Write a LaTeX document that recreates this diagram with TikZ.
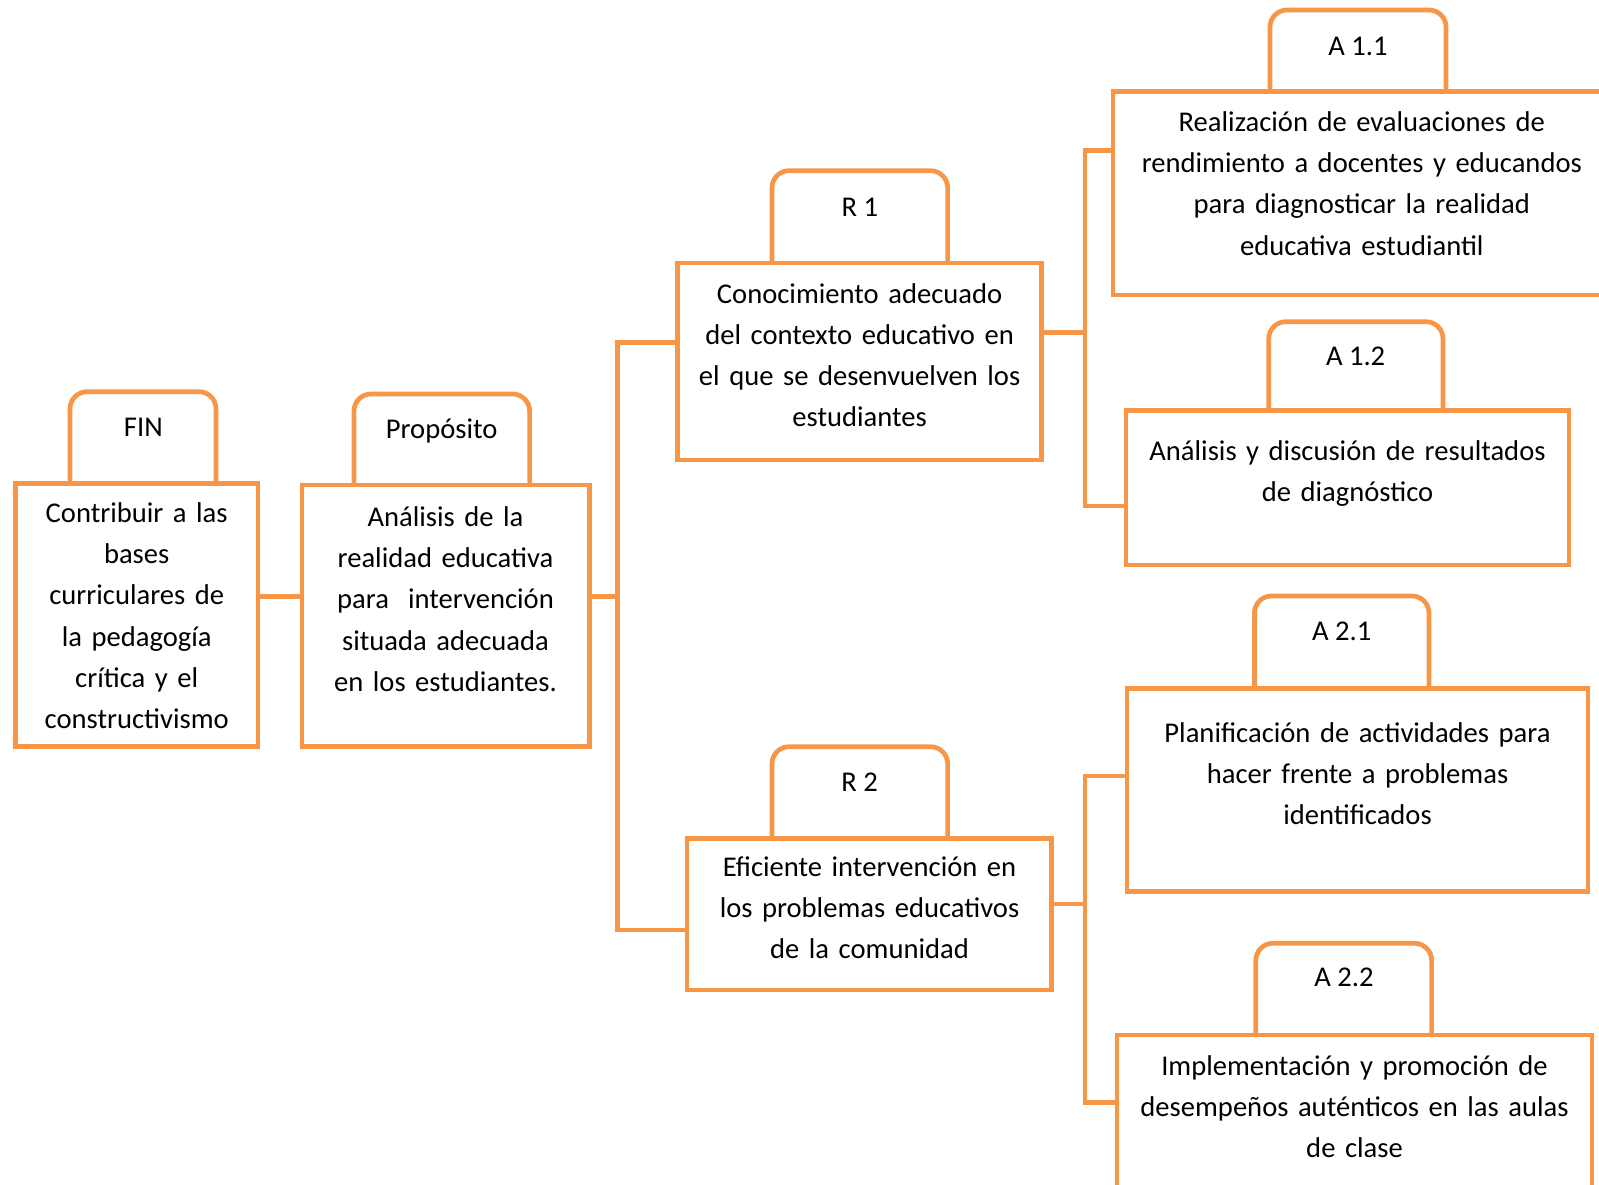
\documentclass[tikz,border=0pt]{standalone}
\usepackage{fontspec}
\setmainfont{Carlito}
\usetikzlibrary{fit}
\definecolor{naranja}{HTML}{F79646}
\tikzset{
	linea/.style={draw=naranja, line width=2.35pt},
	caja/.style={linea, rectangle, inner sep=0pt},
	pestana/.style={linea, rounded corners=8.5pt},
	texto/.style={anchor=base, align=center, text width=#1, inner sep=0pt, font=\fontsize{14.3pt}{20.55pt}\selectfont},
	texto/.default=240pt,
	etiqueta/.style={anchor=base, inner sep=0pt, font=\fontsize{14.3pt}{20.55pt}\selectfont}
}
\begin{document}
\begin{tikzpicture}[x=0.5pt, y=-0.5pt]
		\useasboundingbox (0,0) rectangle (1599,1184);
		\clip (0,0) rectangle (1599,1184);
		%cajas
		\node[caja, fit={(15.5,483.3) (258,746.7)}] (fin) {};
		\node[caja, fit={(302,485) (589.6,746.7)}] (prop) {};
		\node[caja, fit={(677.5,263) (1041.6,460)}] (r-1) {};
		\node[caja, fit={(687,838.3) (1051.8,990)}] (r-2) {};
		\node[caja, fit={(1113,91.7) (1611,295)}] (a-11) {};
		\node[caja, fit={(1126,410.7) (1569,565)}] (a-12) {};
		\node[caja, fit={(1127,688.3) (1588,891.7)}] (a-21) {};
		\node[caja, fit={(1117,1035) (1592,1230)}] (a-22) {};
		%pestañas
		\draw[pestana] (70,483.3) -- (70,391.7) -- (216,391.7) -- (216,483.3);
		\draw[pestana] (354,485) -- (354,394) -- (529.6,394) -- (529.6,485);
		\draw[pestana] (772,263) -- (772,170.7) -- (947.6,170.7) -- (947.6,263);
		\draw[pestana] (772,838.3) -- (772,746.7) -- (947.6,746.7) -- (947.6,838.3);
		\draw[pestana] (1270,91.7) -- (1270,10) -- (1446,10) -- (1446,91.7);
		\draw[pestana] (1268.7,410.7) -- (1268.7,321.7) -- (1443,321.7) -- (1443,410.7);
		\draw[pestana] (1254.4,688.3) -- (1254.4,596) -- (1429,596) -- (1429,688.3);
		\draw[pestana] (1255.8,1035) -- (1255.8,943.3) -- (1431.6,943.3) -- (1431.6,1035);
		\draw (143.4,436) node[etiqueta](t-fin){FIN} (441.7,438.3) node[etiqueta](t-prop){Propósito};
		\draw (859.8,216) node[etiqueta](t-r1){R 1} (859.6,791) node[etiqueta](t-r2){R 2};
		\draw (1358,55) node[etiqueta](t-a11){A 1.1} (1355.6,365) node[etiqueta](t-a12){A 1.2};
		\draw (1341.7,640.7) node[etiqueta](t-a21){A 2.1} (1344,986.7) node[etiqueta](t-a22){A 2.2};
		%textos
		\node[texto] (fin-t) at (136.7,522.7) {Contribuir a las\\bases\\curriculares de\\la pedagogía\\crítica y el\\constructivismo};
		\node[texto] (prop-t) at (445.5,526.7) {Análisis de la\\realidad educativa\\para\ \ intervención\\situada adecuada\\en los estudiantes.};
		\node[texto] (r-1-t) at (859.6,303.3) {Conocimiento adecuado\\del contexto educativo en\\el que se desenvuelven los\\estudiantes};
		\node[texto] (r-2-t) at (869.5,876.7) {Eficiente intervención en\\los problemas educativos\\de la comunidad};
		\node[texto] (a-11-t) at (1361.8,131.7) {Realización de evaluaciones de\\rendimiento a docentes y educandos\\para diagnosticar la realidad\\educativa estudiantil};
		\node[texto] (a-12-t) at (1347.5,460) {Análisis y discusión de resultados\\de diagnóstico};
		\node[texto] (a-21-t) at (1357.5,742.3) {Planificación de actividades para\\hacer frente a problemas\\identificados};
		\node[texto] (a-22-t) at (1354.5,1075) {Implementación y promoción de\\desempeños auténticos en las aulas\\de clase};
		%conectores
		\coordinate (c-1) at (617.5,596.7);
		\coordinate (s-1) at (617.5,342.7);
		\coordinate (s-2) at (617.5,930);
		\draw[linea] (fin.east |- c-1) -- (prop.west |- c-1);
		\draw[linea] (prop.east |- c-1) -- (c-1);
		\draw[linea] (r-1.west |- s-1) -- (s-1) -- (s-2) -- (r-2.west |- s-2);
		\coordinate (c-2) at (1085,332.3);
		\coordinate (s-3) at (1085,150.7);
		\coordinate (s-4) at (1085,506);
		\draw[linea] (r-1.east |- c-2) -- (c-2);
		\draw[linea] (a-11.west |- s-3) -- (s-3) -- (s-4) -- (a-12.west |- s-4);
		\coordinate (c-3) at (1085,904);
		\coordinate (s-5) at (1085,776);
		\coordinate (s-6) at (1085,1102.7);
		\draw[linea] (r-2.east |- c-3) -- (c-3);
		\draw[linea] (a-21.west |- s-5) -- (s-5) -- (s-6) -- (a-22.west |- s-6);
	\end{tikzpicture}
\end{document}
